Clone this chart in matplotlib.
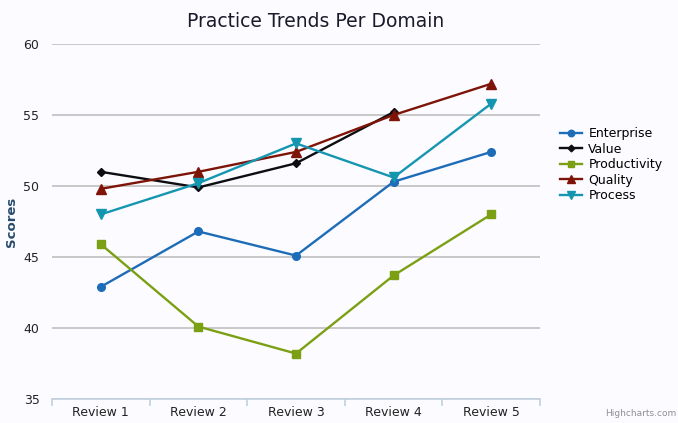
import numpy as np
import matplotlib
matplotlib.use('Agg')
import matplotlib.pyplot as plt

# data
categories = ['Review 1', 'Review 2', 'Review 3', 'Review 4', 'Review 5']
enterprise = [42.9, 46.8, 45.1, 50.3, 52.4]
value = [51.0, 49.9, 51.6, 55.2, np.nan]
productivity = [45.9, 40.1, 38.2, 43.7, 48.0]
quality = [49.8, 51.0, 52.4, 55.0, 57.2]
process = [48.0, 50.2, 53.0, 50.6, 55.8]

series = [
    ('Enterprise', enterprise, '#1c6cb8', 'o', 5.5),
    ('Value', value, '#0d0d12', 'D', 4),
    ('Productivity', productivity, '#7ca014', 's', 5.5),
    ('Quality', quality, '#7e1408', '^', 6.5),
    ('Process', process, '#1596b0', 'v', 6.5),
]

bg = '#fcfbff'
fig = plt.figure(figsize=(6.78, 4.23), dpi=100, facecolor=bg)
ax = fig.add_axes([52 / 678, 24 / 423, 488 / 678, 355 / 423], facecolor=bg)

x = np.arange(len(categories))
for name, vals, col, mk, ms in series:
    ax.plot(x, vals, color=col, lw=1.7, marker=mk, markersize=ms,
            markeredgecolor=col, label=name, zorder=3)

ax.set_xlim(-0.5, len(categories) - 0.5)
ax.set_ylim(35, 60)
ax.set_yticks([35, 40, 45, 50, 55, 60])
ax.yaxis.grid(True, color='#c0c0c0', lw=1.2)
ax.set_axisbelow(True)

for s in ['top', 'right', 'left']:
    ax.spines[s].set_visible(False)
ax.spines['bottom'].set_color('#c0d0e0')
ax.spines['bottom'].set_linewidth(1.2)

ax.set_xticks(x)
ax.set_xticklabels(categories)
ax.set_xticks(np.arange(-0.5, len(categories)), minor=True)
ax.tick_params(axis='x', which='major', length=0, labelsize=9,
               colors='#222222', pad=5)
ax.tick_params(axis='x', which='minor', length=5, color='#c0d0e0', width=1.2)
ax.tick_params(axis='y', length=0, labelsize=9, colors='#222222', pad=9)

ax.set_ylabel('Scores', color='#274b6d', fontsize=9.5, fontweight='bold', labelpad=4)
fig.text(0.466, 0.948, 'Practice Trends Per Domain', ha='center', va='center',
         fontsize=13.5, color='#1a1a2a')

leg = ax.legend(loc='center left', bbox_to_anchor=(1.03, 0.66), frameon=False,
                fontsize=9, handlelength=1.8, handletextpad=0.5,
                labelspacing=0.2, borderaxespad=0, markerscale=0.85)

fig.text(0.997, 0.012, 'Highcharts.com', ha='right', va='bottom',
         fontsize=6.5, color='#909090')

plt.savefig('out.png', dpi=100, facecolor=bg)
